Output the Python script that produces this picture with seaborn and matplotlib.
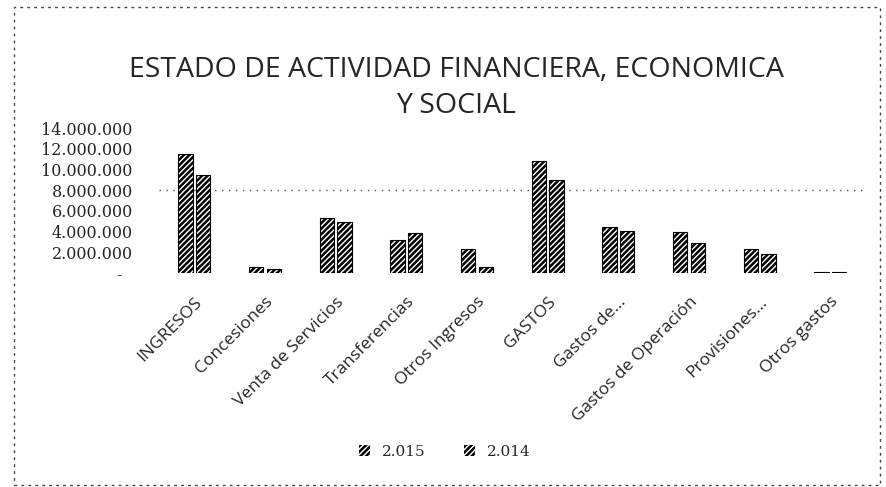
import numpy as np
import pandas as pd
import seaborn as sns
import matplotlib.pyplot as plt
from matplotlib.patches import Rectangle, Patch

categories = ["INGRESOS", "Concesiones", "Venta de Servicios", "Transferencias",
              "Otros Ingresos", "GASTOS", "Gastos de...", "Gastos de Operación",
              "Provisiones...", "Otros gastos"]
years = ["2.015", "2.014"]
values_2015 = [11500000, 550000, 5300000, 3200000, 2300000,
               10800000, 4400000, 4000000, 2300000, 100000]
values_2014 = [9450000, 400000, 4900000, 3900000, 600000,
               9000000, 4100000, 2900000, 1800000, 100000]
yticks = [0, 2000000, 4000000, 6000000, 8000000, 10000000, 12000000, 14000000]
ytick_labels = ["-  ", "2.000.000", "4.000.000", "6.000.000", "8.000.000",
                "10.000.000", "12.000.000", "14.000.000"]

df = pd.DataFrame({
    "categoria": categories * 2,
    "valor": values_2015 + values_2014,
    "anio": [years[0]] * len(categories) + [years[1]] * len(categories),
})

sns.set_style("white")
plt.rcParams['font.family'] = ['Open Sans', 'DejaVu Sans']
plt.rcParams['hatch.linewidth'] = 1.8
plt.rcParams['hatch.color'] = 'black'

fig = plt.figure(figsize=(8.86, 4.87), dpi=100)
ax = fig.add_axes([0.1795, 0.4394, 0.7975, 0.2977])

sns.barplot(data=df, x="categoria", y="valor", hue="anio", hue_order=years,
            order=categories, width=0.5, gap=0.2, ax=ax, legend=False,
            palette=["white", "white"], edgecolor="black", linewidth=0.8)
for bar in ax.patches:
    bar.set_hatch("//////")

ax.set_ylim(0, 14000000)
ax.set_xlim(-0.5, len(categories) - 0.5)
ax.set_yticks(yticks)
ax.set_yticklabels(ytick_labels, family="DejaVu Serif", fontsize=11.5)
ax.tick_params(axis="y", length=0, pad=19)
ax.tick_params(axis="x", length=0, pad=15)
ax.set_xticks(range(len(categories)))
ax.set_xticklabels(categories, rotation=45, ha="right", rotation_mode="anchor",
                   fontsize=12.5)
ax.set_xlabel("")
ax.set_ylabel("")
ax.axhline(8000000, color="#555555", linestyle=(0, (1, 4)), linewidth=1, zorder=0)
for s in ax.spines.values():
    s.set_visible(False)

fig.text(0.515, 0.819, "ESTADO DE ACTIVIDAD FINANCIERA, ECONOMICA\nY SOCIAL",
         ha="center", va="center", fontsize=20.5, linespacing=1.35)

handles = [Patch(facecolor="white", edgecolor="black", hatch="//////", linewidth=0)
           for _ in years]
fig.legend(handles, years, loc="center", bbox_to_anchor=(0.502, 0.072), ncol=2,
           frameon=False, handlelength=0.7, handleheight=0.7,
           columnspacing=2.5, prop={"family": "DejaVu Serif", "size": 11})

fig.patches.append(Rectangle((14 / 886, 1 - 485 / 487), 866 / 886, 478 / 487,
                             transform=fig.transFigure, fill=False,
                             edgecolor="#444444", linestyle=(0, (2, 3)),
                             linewidth=1))

fig.savefig("out.png", dpi=100)
